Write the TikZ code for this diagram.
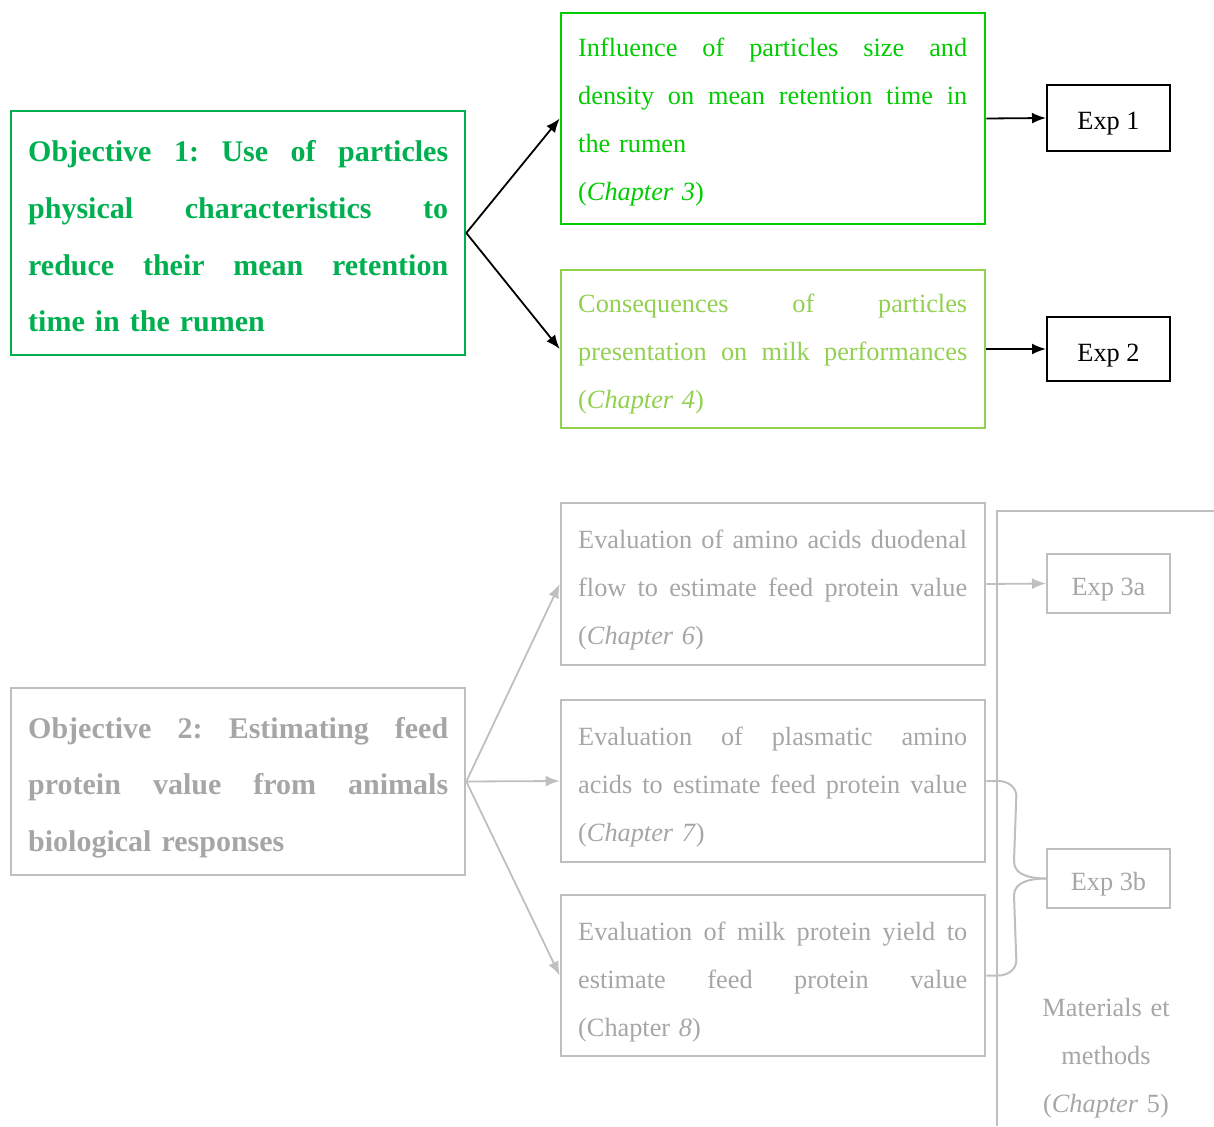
\documentclass[tikz,border=0pt]{standalone}
\usepackage{fontspec}
\setmainfont{Liberation Serif}
\usetikzlibrary{arrows.meta,calc}
\definecolor{gone}{HTML}{00B050}
\definecolor{gtwo}{HTML}{00CC00}
\definecolor{gthree}{HTML}{92D050}
\definecolor{gtext}{HTML}{A6A6A6}
\definecolor{gline}{HTML}{BFBFBF}
% justified line of a given width
\newcommand{\jl}[2]{\leavevmode\hbox to #1{\spaceskip=0.25em plus 1fil\relax #2}}
\frenchspacing
\begin{document}
\begin{tikzpicture}[x=1pt,y=-1pt,
  box/.style={draw,rectangle,inner sep=0pt,minimum width=424pt,line width=2.6pt},
  objbox/.style={draw,rectangle,inner sep=0pt,minimum width=454pt,line width=2.6pt},
  expbox/.style={draw,rectangle,inner sep=0pt,minimum width=123pt,line width=2pt,
    text height=24pt,text depth=0pt,font=\fontsize{26.3}{48}\selectfont},
  txt/.style={anchor=base west,inner sep=0pt,text width=389pt,align=left,font=\fontsize{26.3}{48}\selectfont\frenchspacing},
  objtxt/.style={anchor=base west,inner sep=0pt,text width=420pt,align=left,font=\fontsize{30}{56.5}\selectfont\bfseries\frenchspacing},
  arr/.style={line width=1.8pt,-{Latex[length=14pt,width=11pt]}},
  garr/.style={arr,gline},
  gl/.style={gline,line width=2.4pt}]
\useasboundingbox (0,0) rectangle (1214,1126);

% ---------- Objective 1 ----------
\node[objbox,gone,minimum height=244pt] (obj1) at (238,233) {};
\node[objtxt,gone] (obj1t) at (28,162) {\jl{420pt}{Objective 1: Use of particles}\\\jl{420pt}{physical characteristics to}\\\jl{420pt}{reduce their mean retention}\\time in the rumen};

\node[box,gtwo,minimum height=211pt] (A) at (773,118.5) {};
\node[txt,gtwo] (At) at (578,57) {\jl{389pt}{Influence of particles size and}\\\jl{389pt}{density on mean retention time in}\\the rumen\\(\textit{Chapter 3})};

\node[box,gthree,minimum height=158pt] (B) at (773,349) {};
\node[txt,gthree] (Bt) at (578,312) {\jl{389pt}{Consequences of particles}\\\jl{389pt}{presentation on milk performances}\\(\textit{Chapter 4})};

\node[expbox,minimum height=66pt] (exp1) at (1108.5,118) {Exp 1};
\node[expbox,minimum height=64pt] (exp2) at (1108.5,349) {Exp 2};

\draw[arr] (obj1.east) -- (A.west);
\draw[arr] (obj1.east) -- (B.west);
\draw[arr] (A.east) -- (exp1.west);
\draw[arr] (B.east) -- (exp2.west);

% ---------- Objective 2 ----------
\node[objbox,gline,minimum height=187pt] (obj2) at (238,781.5) {};
\node[objtxt,gtext] (obj2t) at (28,738) {\jl{420pt}{Objective 2: Estimating feed}\\\jl{420pt}{protein value from animals}\\biological responses};

\node[box,gline,minimum height=162pt] (C) at (773,584) {};
\node[txt,gtext] (Ct) at (578,548) {\jl{389pt}{Evaluation of amino acids duodenal}\\\jl{389pt}{flow to estimate feed protein value}\\(\textit{Chapter 6})};

\node[box,gline,minimum height=162pt] (D) at (773,781) {};
\node[txt,gtext] (Dt) at (578,745) {\jl{389pt}{Evaluation of plasmatic amino}\\\jl{389pt}{acids to estimate feed protein value}\\(\textit{Chapter 7})};

\node[box,gline,minimum height=161pt] (E) at (773,975.5) {};
\node[txt,gtext] (Et) at (578,940) {\jl{389pt}{Evaluation of milk protein yield to}\\\jl{389pt}{estimate feed protein value}\\(Chapter \textit{8})};

\node[expbox,gline,text=gtext,minimum height=59pt] (exp3a) at (1108.5,583.5) {Exp 3a};
\node[expbox,gline,text=gtext,minimum height=59pt] (exp3b) at (1108.5,878.5) {Exp 3b};

\draw[garr] (obj2.east) -- (C.west);
\draw[garr] (obj2.east) -- (D.west);
\draw[garr] (obj2.east) -- (E.west);

% bracket for materials and methods
\draw[gl] (997,1126) -- (997,511) -- (1214,511);
\node[anchor=base,inner sep=0pt,text width=200pt,align=center,text=gtext,font=\fontsize{26.3}{48}\selectfont] (mm) at (1106,1016) {Materials et\\methods\\(\textit{Chapter} 5)};

\draw[garr] (C.east) -- (exp3a.west);

% brace to Exp 3b
\draw[gl,line width=2pt] (D.east) -- ++(12,0) to[out=0,in=90] ++(18,15) -- ($(exp3b.west)+(-32,-17)$) to[out=-90,in=180] (exp3b.west);
\draw[gl,line width=2pt] (E.east) -- ++(12,0) to[out=0,in=-90] ++(18,-15) -- ($(exp3b.west)+(-32,17)$) to[out=90,in=180] (exp3b.west);
\end{tikzpicture}
\end{document}
